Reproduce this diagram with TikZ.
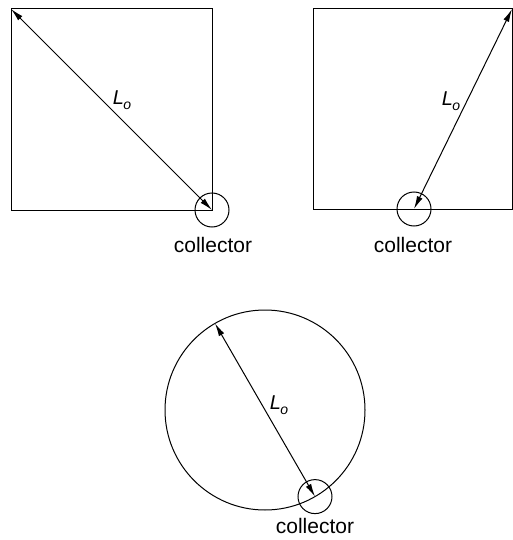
\documentclass[tikz,border=0pt]{standalone}
\usepackage{fontspec}
\setmainfont{Liberation Sans}
\usetikzlibrary{arrows.meta,positioning}
\newcommand{\Lsub}{L\kern-0.5pt\raisebox{-0.45ex}{\fontsize{14}{14}\selectfont o}}

\begin{document}
\begin{tikzpicture}[
	x=1pt, y=-1pt, % pixel-like units, y runs down
	% Style for the room outlines
	wall/.style={
		draw=black,
		line width=1pt
	},
	% Style for the round room
	round room/.style={
		circle,
		draw=black,
		line width=1pt,
		minimum size=200pt,
		inner sep=0pt,
		outer sep=0pt
	},
	% Style for the small collector circles
	collector node/.style={
		circle,
		draw=black,
		line width=1pt,
		minimum size=34pt,
		inner sep=0pt
	},
	% Style for the collector captions
	caption/.style={
		font=\fontsize{21}{25}\selectfont,
		anchor=base,
		inner sep=0pt
	},
	% Style for the L_o labels
	length label/.style={
		font=\fontsize{20}{24}\selectfont\itshape,
		inner sep=0pt
	},
	% Style for the double-headed arrows
	reach/.style={
		line width=1pt,
		{Latex[length=13pt,width=6pt]}-{Latex[length=13pt,width=6pt]}
	}
	]
	
	\useasboundingbox (0,0) rectangle (513,540);
	
	% 1. Square room, collector in the corner
	\coordinate (sq1tl) at (11,9);
	\coordinate (sq1br) at (212,210);
	\draw[wall] (sq1tl) rectangle (sq1br);
	\node[collector node] (coll1) at (sq1br) {};
	\draw[reach] (coll1.center) -- (sq1tl);
	\node[length label] (len1) at (122,100) {\Lsub};
	\node[caption] (cap1) at (213,252) {collector};
	
	% 2. Square room, collector on the wall
	\coordinate (sq2tl) at (313,9);
	\coordinate (sq2br) at (512,209);
	\coordinate (sq2tr) at (512,9);
	\draw[wall] (sq2tl) rectangle (sq2br);
	\node[collector node] (coll2) at (414,209) {};
	\draw[reach] (coll2.center) -- (sq2tr);
	\node[length label] (len2) at (451,101) {\Lsub};
	\node[caption] (cap2) at (413,252) {collector};
	
	% 3. Round room, collector on the wall
	\node[round room] (room3) at (265,410) {};
	\node[collector node] (coll3) at (room3.-60) {};
	\draw[reach] (coll3.center) -- (room3.120);
	\node[length label] (len3) at (279,405) {\Lsub};
	\node[caption] (cap3) at (315,533) {collector};
	
\end{tikzpicture}
\end{document}
